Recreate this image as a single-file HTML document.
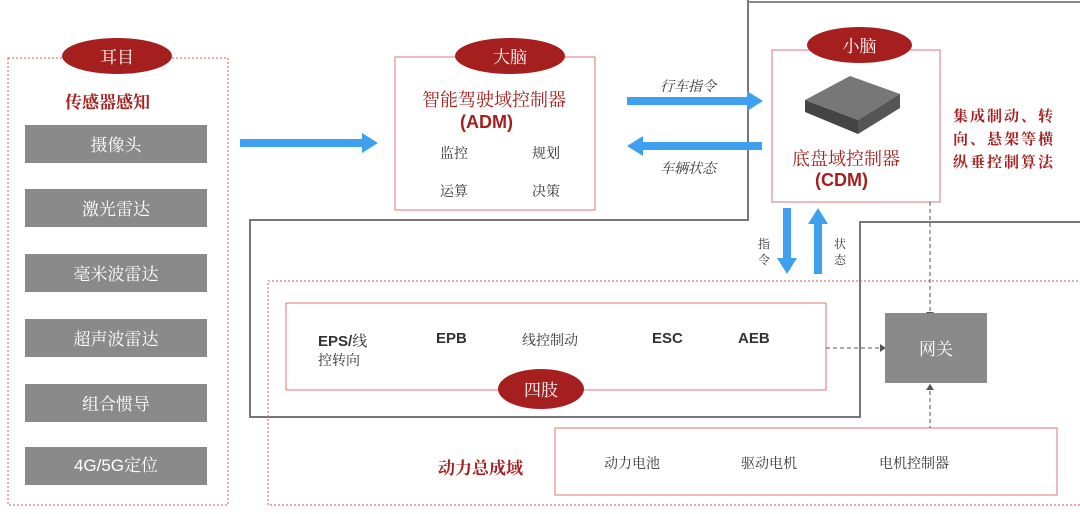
<!DOCTYPE html>
<html><head><meta charset="utf-8"><style>
body{margin:0;width:1080px;height:514px;background:#fff;position:relative;overflow:hidden;font-family:"Liberation Sans","Noto Serif CJK SC","Noto Sans CJK SC",serif;}
.a{position:absolute;box-sizing:border-box;}
.pill{position:absolute;background:#a61f1f;color:#fff;border-radius:50%;text-align:center;font-size:17px;font-family:"Noto Serif CJK SC",serif;}
.g{position:absolute;left:25px;width:182px;height:38px;background:#8a8a8a;color:#fff;font-size:17px;text-align:center;line-height:38px;font-family:"Noto Serif CJK SC",serif;}
.t{position:absolute;white-space:nowrap;font-size:14px;color:#333;font-family:"Noto Serif CJK SC",serif;}
.b{position:absolute;white-space:nowrap;font-size:15px;font-weight:bold;color:#333;}
</style></head><body>
<svg class="a" style="left:0;top:0" width="1080" height="514">
<polyline points="748,0 748,220 250,220 250,417 860,417 860,222 1080,222" fill="none" stroke="#777" stroke-width="2"/>
<line x1="748" y1="2" x2="1080" y2="2" stroke="#888" stroke-width="2"/>
<rect x="8" y="58" width="220" height="447" fill="none" stroke="#d55" stroke-dasharray="2,2"/>
<rect x="268" y="281" width="830" height="224" fill="none" stroke="#d55" stroke-dasharray="2,2"/>
<rect x="395" y="57" width="200" height="153" fill="none" stroke="#d77"/>
<rect x="772" y="50" width="168" height="152" fill="none" stroke="#d77"/>
<rect x="286" y="303" width="540" height="87" fill="none" stroke="#d77"/>
<rect x="555" y="428" width="502" height="67" fill="none" stroke="#d77"/>
<g fill="#3fa0f0">
<rect x="240" y="139" width="124" height="8"/><polygon points="362,133 378,143 362,153"/>
<rect x="627" y="97" width="122" height="8"/><polygon points="747,91 763,101 747,111"/>
<rect x="642" y="142" width="120" height="8"/><polygon points="643,136 627,146 643,156"/>
<rect x="783" y="208" width="8" height="52"/><polygon points="777,258 787,274 797,258"/>
<rect x="814" y="222" width="8" height="52"/><polygon points="808,224 818,208 828,224"/>
</g>
<g stroke="#555" stroke-dasharray="4,3" fill="none">
<line x1="930" y1="202" x2="930" y2="312"/><line x1="930" y1="384" x2="930" y2="428"/>
<line x1="826" y1="348" x2="880" y2="348"/>
</g>
<polygon points="880,344 886,348 880,352" fill="#555"/>
<polygon points="926,312 930,318 934,312" fill="#555"/>
<polygon points="926,390 930,384 934,390" fill="#555"/>
<g>
<polygon points="805,100 850,76 900,94 858,120" fill="#777"/>
<polygon points="805,100 858,120 858,134 805,112" fill="#444"/>
<polygon points="858,120 900,94 900,108 858,134" fill="#555"/>
</g>
</svg>
<div class="pill" style="left:62px;top:38px;width:110px;height:36px;line-height:36px">耳目</div>
<div class="pill" style="left:455px;top:38px;width:110px;height:36px;line-height:36px">大脑</div>
<div class="pill" style="left:807px;top:27px;width:105px;height:36px;line-height:36px">小脑</div>
<div class="pill" style="left:498px;top:369px;width:86px;height:40px;line-height:40px">四肢</div>
<div class="t" style="left:65px;top:88px;color:#a61f1f;font-weight:bold;font-size:17px">传感器感知</div>
<div class="g" style="top:125px">摄像头</div>
<div class="g" style="top:189px">激光雷达</div>
<div class="g" style="top:254px">毫米波雷达</div>
<div class="g" style="top:319px">超声波雷达</div>
<div class="g" style="top:384px">组合惯导</div>
<div class="g" style="top:447px;font-family:'Liberation Sans','Noto Serif CJK SC',serif">4G/5G定位</div>
<div class="t" style="left:422px;top:86px;color:#a61f1f;font-size:18px">智能驾驶域控制器</div>
<div class="t" style="left:460px;top:112px;color:#a61f1f;font-size:18px;font-weight:bold;font-family:'Liberation Sans',sans-serif">(ADM)</div>
<div class="t" style="left:440px;top:143px">监控</div><div class="t" style="left:532px;top:143px">规划</div>
<div class="t" style="left:440px;top:181px">运算</div><div class="t" style="left:532px;top:181px">决策</div>
<div class="t" style="left:660px;top:76px;font-style:italic">行车指令</div>
<div class="t" style="left:660px;top:158px;font-style:italic">车辆状态</div>
<div class="t" style="left:792px;top:145px;color:#a61f1f;font-size:18px">底盘域控制器</div>
<div class="t" style="left:815px;top:170px;color:#a61f1f;font-size:18px;font-weight:bold;font-family:'Liberation Sans',sans-serif">(CDM)</div>
<div class="t" style="left:953px;top:104px;color:#a61f1f;font-size:15px;line-height:23px;font-weight:bold;letter-spacing:2px">集成制动、转<br>向、悬架等横<br>纵垂控制算法</div>
<div class="t" style="left:758px;top:236px;font-size:12px;line-height:16px;width:14px;white-space:normal">指令</div>
<div class="t" style="left:834px;top:236px;font-size:12px;line-height:16px;width:14px;white-space:normal">状态</div>
<div class="b" style="left:318px;top:330px">EPS/<span style="font-weight:normal;font-family:'Noto Serif CJK SC',serif">线</span></div>
<div class="t" style="left:318px;top:350px">控转向</div>
<div class="b" style="left:436px;top:330px">EPB</div>
<div class="t" style="left:522px;top:330px">线控制动</div>
<div class="b" style="left:652px;top:330px">ESC</div>
<div class="b" style="left:738px;top:330px">AEB</div>
<div class="a" style="left:885px;top:313px;width:102px;height:70px;background:#8a8a8a;color:#fff;font-size:17px;text-align:center;line-height:70px;font-family:'Noto Serif CJK SC',serif">网关</div>
<div class="t" style="left:438px;top:454px;color:#a61f1f;font-size:17px;font-weight:bold">动力总成域</div>
<div class="t" style="left:604px;top:453px">动力电池</div>
<div class="t" style="left:741px;top:453px">驱动电机</div>
<div class="t" style="left:879px;top:453px">电机控制器</div>
</body></html>
